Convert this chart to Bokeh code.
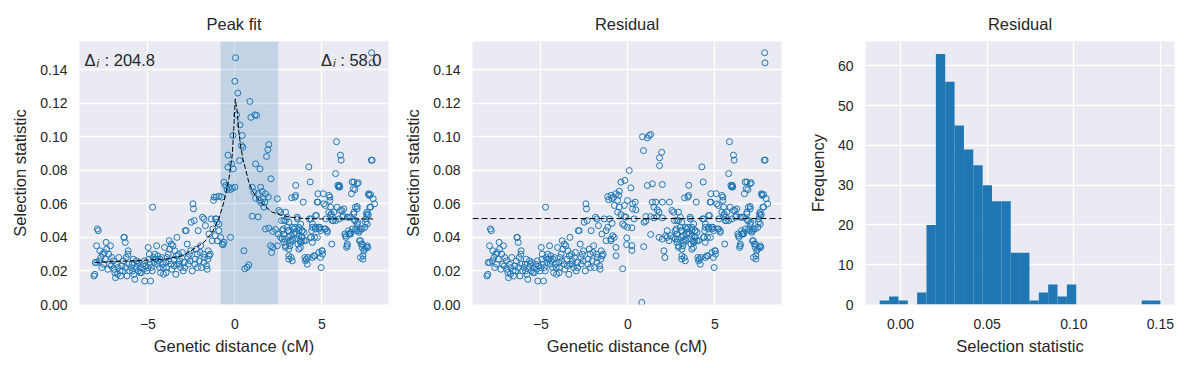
from bokeh.plotting import figure
from bokeh.models import Range1d, FixedTicker, Span, Label, BoxAnnotation, NumeralTickFormatter
from bokeh.layouts import row
from bokeh.embed import file_html
from bokeh.resources import INLINE

FONT = "Liberation Sans"
TXT = "#262626"
BG = "#EAEAF2"
C0 = "#1f77b4"

# ---------------- data ----------------
# points left of the peak window (shared by both scatter panels)
left_x = [-8.10, -8.05, -7.95, -7.90, -7.85, -8.03, -7.94, -7.80, -7.76, -7.70, -7.65, -7.60, -7.55, -7.45,
          -7.40, -7.37, -7.30, -7.25, -7.20, -7.10, -7.07,
          -6.95, -6.90, -6.86, -6.80, -6.72, -6.67, -6.60, -6.57, -6.50, -6.42, -6.38, -6.35, -6.30, -6.28,
          -6.20, -6.15, -6.13, -6.10, -6.05,
          -5.96, -5.90, -5.84, -5.80, -5.75, -5.70, -5.60, -5.55, -5.50, -5.42, -5.37, -5.30, -5.24, -5.18,
          -5.13, -5.05,
          -4.98, -4.94, -4.89, -4.85, -4.80, -4.73, -4.70, -4.65, -4.60, -4.54, -4.50, -4.46, -4.40, -4.33,
          -4.27, -4.21, -4.16, -4.10, -4.04,
          -3.97, -3.93, -3.90, -3.83, -3.77, -3.74, -3.68, -3.62, -3.56, -3.50, -3.45, -3.39, -3.33, -3.30,
          -3.24, -3.18, -3.12, -3.07,
          -2.97, -2.91, -2.85, -2.80, -2.74, -2.68, -2.62, -2.57, -2.51, -2.45, -2.41, -2.38, -2.34, -2.28,
          -2.22, -2.17, -2.11, -2.05,
          -1.97, -1.92, -1.86, -1.80, -1.74, -1.69, -1.63, -1.59, -1.53, -1.48, -1.42, -1.36,
          -7.50, -7.15, -6.98, -6.75, -6.45, -6.25, -5.88, -5.65, -5.45, -5.20, -5.00, -4.92, -4.75, -4.58,
          -4.43, -4.30, -4.12, -3.95, -3.80, -3.65, -3.48, -3.36, -3.20, -3.02, -2.88, -2.70, -2.55, -2.30,
          -2.15, -2.00, -1.78, -1.55, -1.78, -1.49]
left_y = [0.017, 0.018, 0.035, 0.045, 0.044, 0.025, 0.025, 0.026, 0.032, 0.028, 0.022, 0.030, 0.024, 0.027,
          0.037, 0.033, 0.021, 0.030, 0.024, 0.023, 0.028,
          0.021, 0.019, 0.016, 0.024, 0.022, 0.028, 0.020, 0.017, 0.023, 0.026, 0.040, 0.040, 0.037, 0.022,
          0.017, 0.030, 0.032, 0.024, 0.020,
          0.022, 0.024, 0.027, 0.018, 0.015, 0.022, 0.024, 0.020, 0.025, 0.022, 0.019, 0.024, 0.021, 0.014,
          0.023, 0.020,
          0.034, 0.027, 0.024, 0.014, 0.022, 0.058, 0.028, 0.025, 0.030, 0.027, 0.035, 0.024, 0.026, 0.022,
          0.019, 0.028, 0.024, 0.018, 0.034,
          0.025, 0.022, 0.028, 0.030, 0.038, 0.033, 0.024, 0.021, 0.035, 0.027, 0.032, 0.018, 0.040, 0.024,
          0.030, 0.026, 0.022, 0.028,
          0.020, 0.025, 0.044, 0.044, 0.036, 0.024, 0.030, 0.026, 0.049, 0.020, 0.060, 0.057, 0.050, 0.027,
          0.033, 0.030, 0.044, 0.026,
          0.035, 0.022, 0.052, 0.030, 0.028, 0.047, 0.023, 0.021, 0.032, 0.029, 0.030, 0.051,
          0.031, 0.035, 0.026, 0.018, 0.020, 0.028, 0.020, 0.026, 0.019, 0.026, 0.022, 0.030, 0.020, 0.027,
          0.029, 0.027, 0.022, 0.019, 0.026, 0.036, 0.023, 0.029, 0.024, 0.031, 0.022, 0.028, 0.032, 0.024,
          0.022, 0.031, 0.025, 0.027, 0.051, 0.042]

# points inside the peak window, as they appear in the "Peak fit" panel
peak_mid_x = [-1.26, -1.23, -1.19, -1.13, -1.07, -1.03,
              0.04, 0.00, 0.17, 0.86, 0.10, 0.92, 1.15, 1.25, 0.29, -0.11, 0.42, 0.38, 0.46, 1.95, 1.90, 1.82,
              -0.40, 0.27, -0.19, 1.19, -0.40, -0.09, 1.44, 2.07, -0.63, -0.53, -0.34, -0.15, 0.00, -0.44,
              -0.25, 1.00, 1.48, 1.09, 1.34, 1.57, 1.76, 1.63, -0.92, -0.76, 1.19, 1.42, 1.72, 1.53, 1.92,
              1.67, 2.44, 1.00, 1.34, 1.76, 1.95, 2.18, 2.34, 2.49, -0.92, -0.82, -0.63, -1.01, -0.25, -0.69,
              2.05, 2.18, 2.11, 2.44, 0.52, 0.80, 0.71, 0.57, -1.07, -1.11, -0.92, -1.30, -0.72]
peak_mid_y = [0.045, 0.062, 0.064, 0.041, 0.064, 0.049,
              0.147, 0.133, 0.126, 0.121, 0.113, 0.1115, 0.113, 0.1126, 0.107, 0.1007, 0.1007, 0.0947, 0.0937,
              0.0953, 0.0923, 0.0882,
              0.089, 0.0858, 0.0838, 0.0838, 0.0818, 0.0808, 0.0808, 0.0749, 0.0729, 0.0709, 0.0699, 0.0693,
              0.0699, 0.0685, 0.0685, 0.0699, 0.0699, 0.0669, 0.066, 0.0673, 0.066, 0.063, 0.0645, 0.064,
              0.0633, 0.062, 0.061, 0.0606, 0.064, 0.058, 0.063, 0.0526, 0.0522, 0.045, 0.0455, 0.0435,
              0.0447, 0.042, 0.044, 0.040, 0.037, 0.038, 0.040, 0.0356, 0.035, 0.034, 0.031, 0.035, 0.032,
              0.0236, 0.0222, 0.0213, 0.051, 0.051, 0.048, 0.038, 0.036]

# points inside the peak window, as they appear in the "Residual" panel
resid_mid_x = [0.84, 1.12, 1.22, 1.31, 0.90, 1.94, 1.82, 1.82, 0.08, -0.40, -0.17, 0.17, 1.12, 1.41, 1.98,
               -0.49, -0.68, -0.53, -1.16, -0.97, -0.83, -1.10, -0.91, -0.59, -0.02, -0.78, -0.49, -0.20,
               0.27, 0.42, 0.27, 0.46, 1.41, 1.60, 1.98, 2.39, 1.50, 1.69, 1.79, -0.59, -0.40, -0.20, -0.11,
               1.03, 1.31, 1.50, 1.69, 1.98, -0.20, -0.30, -0.02, 0.23, 0.36, -1.06, -0.91, -1.16, -1.25,
               0.93, 1.03, 1.31, -0.06, -0.07, 0.23, 0.23, 0.91, -0.87, -0.78, -0.97, -1.25, -0.68, -0.68,
               -0.97, -0.30, 0.80, 1.79, 1.98, 2.17, 2.26, 2.45, 2.36, 2.07, 2.13, 2.26]
resid_mid_y = [0.100, 0.0993, 0.1007, 0.1013, 0.0917, 0.0907, 0.0874, 0.0828, 0.0798, 0.0729, 0.0739,
               0.0695, 0.0709, 0.0719, 0.0715, 0.0675, 0.066, 0.065, 0.0643, 0.065, 0.0639, 0.0624, 0.063,
               0.062, 0.062, 0.059, 0.058, 0.059, 0.060, 0.061, 0.057, 0.0564, 0.061, 0.061, 0.061, 0.061,
               0.058, 0.0564, 0.055, 0.055, 0.0536, 0.0524, 0.052, 0.0524, 0.0524, 0.0516, 0.0524, 0.0516,
               0.047, 0.048, 0.046, 0.0457, 0.051, 0.051, 0.0484, 0.046, 0.044, 0.049, 0.0496, 0.0417,
               0.0397, 0.0357, 0.0351, 0.0322, 0.0345, 0.041, 0.040, 0.038, 0.038, 0.034, 0.029, 0.039,
               0.0213, 0.0012, 0.040, 0.039, 0.041, 0.040, 0.041, 0.038, 0.032, 0.028, 0.044]

# points right of the peak window (shared by both scatter panels)
right_x = [2.53, 2.63, 2.82, 2.91, 3.01, 3.10, 2.63, 2.72, 2.82, 2.91, 3.07, 2.91, 3.10,
           2.68, 2.72, 2.78, 2.82, 2.85, 3.05, 3.10, 3.16, 3.20, 3.24, 3.30, 3.33, 3.39, 3.45, 3.45, 3.49,
           3.50, 3.54, 3.58, 3.62, 3.68, 3.74, 3.77, 3.83, 3.87, 3.93, 3.97, 4.02, 4.06, 4.10, 4.16, 4.20,
           4.25, 4.29, 4.33, 4.37, 4.41, 4.46,
           4.54, 4.58, 4.63, 4.69, 4.73, 4.77, 4.83, 4.88, 4.92, 4.96, 5.00, 5.04, 5.08, 5.11, 5.17, 5.23,
           5.31, 5.40, 5.46, 5.50,
           5.54, 5.57, 5.61, 5.65, 5.69, 5.79, 5.84, 5.88, 5.92, 5.96, 6.00, 6.03, 6.07, 6.11, 6.15, 6.19,
           6.23, 6.26, 6.32, 6.38, 6.42, 6.46,
           6.53, 6.57, 6.61, 6.65, 6.70, 6.74, 6.80, 6.84, 6.88, 6.93, 6.99, 7.03, 7.07, 7.13, 7.16, 7.22,
           7.26, 7.32, 7.36, 7.41, 7.47, 7.51, 7.57, 7.61, 7.64, 7.68, 7.72, 7.76, 7.84, 7.89, 7.86, 7.88,
           7.95, 8.03,
           4.45, 4.60, 4.83, 5.02, 3.10, 3.20, 3.30, 3.68, 3.78, 3.87, 7.36, 7.47, 7.55, 7.61, 7.22, 7.32,
           7.13, 6.94, 6.36, 6.55, 6.65, 6.46,
           2.91, 3.01, 3.10, 3.30, 3.39, 3.59, 3.68, 3.78, 3.87, 3.97, 3.49, 3.20, 3.68, 3.83, 4.06, 4.35,
           4.45, 4.64, 4.83, 4.93, 5.21, 5.31, 4.45, 4.74, 4.37, 4.64, 5.40, 5.50, 5.60, 5.79, 6.07, 5.98,
           6.46, 6.65, 6.94, 6.75, 7.03, 7.22, 7.03, 6.84, 7.51, 7.61, 7.32,
           6.84, 7.09, 6.90, 7.70, 7.80, 3.26, 5.46, 5.21, 4.77, 7.80, 7.03, 7.60, 7.67, 5.98]
right_y = [0.056, 0.055, 0.050, 0.050, 0.046, 0.044, 0.040, 0.039, 0.037, 0.035, 0.040, 0.034, 0.033,
           0.050, 0.044, 0.045, 0.042, 0.039, 0.044, 0.027, 0.035, 0.038, 0.028, 0.026, 0.038, 0.042, 0.064,
           0.046, 0.065,
           0.071, 0.042, 0.052, 0.036, 0.044, 0.038, 0.034, 0.040, 0.044, 0.061, 0.038, 0.028, 0.026, 0.027,
           0.024, 0.028, 0.082, 0.051, 0.073, 0.040, 0.044, 0.048,
           0.029, 0.040, 0.045, 0.053, 0.061, 0.066, 0.045, 0.046, 0.028, 0.022, 0.032, 0.030, 0.066, 0.060,
           0.045, 0.051, 0.044, 0.065, 0.062, 0.058,
           0.054, 0.036, 0.052, 0.050, 0.055, 0.078, 0.097, 0.058, 0.071, 0.070, 0.071, 0.070, 0.089, 0.086,
           0.056, 0.052, 0.053, 0.057, 0.042, 0.040, 0.034, 0.035,
           0.044, 0.052, 0.042, 0.042, 0.066, 0.073, 0.069, 0.054, 0.050, 0.058, 0.044, 0.072, 0.049, 0.044,
           0.038, 0.028, 0.036, 0.034, 0.027, 0.032, 0.046, 0.049, 0.054, 0.053, 0.034, 0.066, 0.065, 0.058,
           0.086, 0.086, 0.150, 0.144, 0.063, 0.060,
           0.028, 0.029, 0.031, 0.032, 0.029, 0.037, 0.039, 0.033, 0.037, 0.040, 0.029, 0.033, 0.034, 0.035,
           0.038, 0.036, 0.043, 0.045, 0.041, 0.042, 0.043, 0.036,
           0.055, 0.052, 0.049, 0.046, 0.045, 0.051, 0.046, 0.048, 0.044, 0.043, 0.043, 0.041, 0.041, 0.0375,
           0.038, 0.040, 0.046, 0.046, 0.046, 0.044, 0.045, 0.043, 0.037, 0.040, 0.051, 0.053, 0.055, 0.053,
           0.050, 0.050, 0.056, 0.051, 0.052, 0.052, 0.050, 0.045, 0.048, 0.045, 0.057, 0.055, 0.051, 0.048,
           0.045,
           0.073, 0.0725, 0.0685, 0.0655, 0.0655, 0.0636, 0.064, 0.059, 0.061, 0.058, 0.0584, 0.055, 0.0535,
           0.0705]

# fitted peak curve
fit_x = [-8.05, -6.0, -4.0, -3.0, -2.36, -1.78, -1.30, -0.92, -0.63, -0.34, -0.15, -0.06, 0.02, 0.14,
         0.23, 0.33, 0.46, 0.61, 0.80, 1.00, 1.29, 1.67, 2.15, 2.72, 3.20, 4.0, 5.0, 6.0, 7.0, 8.03]
fit_y = [0.025, 0.026, 0.027, 0.029, 0.033, 0.037, 0.043, 0.051, 0.061, 0.075, 0.089, 0.105, 0.1225,
         0.1146, 0.1027, 0.0947, 0.0868, 0.0808, 0.0729, 0.0679, 0.063, 0.059, 0.055, 0.053, 0.052, 0.0512,
         0.051, 0.051, 0.051, 0.051]

peak_window = (-0.82, 2.49)
baseline = 0.0512
delta_left_value = ": 204.8"
delta_right_value = ": 58.0"

# histogram of residuals (30 bins)
hist_lo, hist_hi, hist_bins = -0.012, 0.150, 30
hist_counts = [1, 2, 1, 0, 3, 20, 63, 56, 45, 39, 35, 30, 26, 26, 13, 13, 1, 3, 5, 2, 5, 0, 0, 0, 0, 0, 0, 0, 1, 1]

x_ticks = [-5, 0, 5]
y_ticks = [0.0, 0.02, 0.04, 0.06, 0.08, 0.10, 0.12, 0.14]
hx_ticks = [0.0, 0.05, 0.10, 0.15]
hy_ticks = [0, 10, 20, 30, 40, 50, 60]

# ---------------- helpers ----------------
def make_fig(title, width, left_border, right_border, x_range, y_range):
    p = figure(width=width, height=360, output_backend="svg", toolbar_location=None,
               x_range=x_range, y_range=y_range,
               min_border_left=left_border, min_border_right=right_border,
               min_border_top=41, min_border_bottom=56)
    p.background_fill_color = BG
    p.border_fill_color = "white"
    p.outline_line_color = None
    p.title.text = title
    p.title.align = "center"
    p.title.text_font = FONT
    p.title.text_font_size = "16.5px"
    p.title.text_font_style = "normal"
    p.title.text_color = TXT
    p.title.standoff = 18
    p.grid.grid_line_color = "white"
    p.grid.grid_line_width = 1.3
    for ax in p.axis:
        ax.axis_line_color = None
        ax.major_tick_line_color = None
        ax.minor_tick_line_color = None
        ax.major_tick_out = 0
        ax.major_tick_in = 0
        ax.minor_tick_out = 0
        ax.minor_tick_in = 0
        ax.major_label_text_font = FONT
        ax.major_label_text_font_size = "14px"
        ax.major_label_text_color = TXT
        ax.axis_label_text_font = FONT
        ax.axis_label_text_font_size = "16.5px"
        ax.axis_label_text_font_style = "normal"
        ax.axis_label_text_color = TXT
    p.xaxis.major_label_standoff = 14
    p.xaxis.axis_label_standoff = 5
    p.yaxis.major_label_standoff = 12
    p.yaxis.axis_label_standoff = 8
    return p


def delta_label(p, x, y, value, align):
    kw = dict(text_font=FONT, text_color=TXT, text_baseline="top")
    if align == "left":
        p.add_layout(Label(x=x, y=y, text="Δ", text_align="left", text_font_size="16.5px", **kw))
        p.add_layout(Label(x=x, y=y, x_offset=12, y_offset=-6, text="i", text_align="left",
                           text_font_size="11.5px", text_font_style="italic", **kw))
        p.add_layout(Label(x=x, y=y, x_offset=20, text=value, text_align="left",
                           text_font_size="16.5px", **kw))
    else:
        p.add_layout(Label(x=x, y=y, text=value, text_align="right", text_font_size="16.5px", **kw))
        p.add_layout(Label(x=x, y=y, x_offset=-46, y_offset=-6, text="i", text_align="right",
                           text_font_size="11.5px", text_font_style="italic", **kw))
        p.add_layout(Label(x=x, y=y, x_offset=-49.5, text="Δ", text_align="right",
                           text_font_size="16.5px", **kw))


minus = {-5: "\u22125"}

all_peak_x = left_x + peak_mid_x + right_x
all_peak_y = left_y + peak_mid_y + right_y
res_x = left_x + resid_mid_x + right_x
res_y = left_y + resid_mid_y + right_y

# ---- panel 1: peak fit ----
p1 = make_fig("Peak fit", 401, 79, 13, Range1d(-8.93, 8.83), Range1d(0, 0.1567))
p1.add_layout(BoxAnnotation(left=peak_window[0], right=peak_window[1], fill_color=C0, fill_alpha=0.2,
                            line_color=None, level="underlay"))
delta_label(p1, -8.64, 0.1513, delta_left_value, "left")
delta_label(p1, 8.43, 0.1513, delta_right_value, "right")
p1.scatter(all_peak_x, all_peak_y, marker="circle", size=6, fill_color=None,
           line_color=C0, line_width=1)
p1.line(fit_x, fit_y, line_color="black", line_width=1, line_dash="5 2")
p1.xaxis.axis_label = "Genetic distance (cM)"
p1.yaxis.axis_label = "Selection statistic"
p1.xaxis.ticker = FixedTicker(ticks=x_ticks)
p1.xaxis.major_label_overrides = minus
p1.yaxis.ticker = FixedTicker(ticks=y_ticks)
p1.yaxis.formatter = NumeralTickFormatter(format="0.00")

# ---- panel 2: residual scatter ----
p2 = make_fig("Residual", 393, 71, 13, Range1d(-8.93, 8.83), Range1d(0, 0.1567))
p2.scatter(res_x, res_y, marker="circle", size=6, fill_color=None, line_color=C0, line_width=1)
p2.add_layout(Span(location=baseline, dimension="width", line_color="black", line_width=1,
                   line_dash="6 3"))
p2.xaxis.axis_label = "Genetic distance (cM)"
p2.yaxis.axis_label = "Selection statistic"
p2.xaxis.ticker = FixedTicker(ticks=x_ticks)
p2.xaxis.major_label_overrides = minus
p2.yaxis.ticker = FixedTicker(ticks=y_ticks)
p2.yaxis.formatter = NumeralTickFormatter(format="0.00")

# ---- panel 3: histogram ----
step = (hist_hi - hist_lo) / hist_bins
edges = [hist_lo + i * step for i in range(hist_bins + 1)]
p3 = make_fig("Residual", 387, 71, 7, Range1d(-0.0202, 0.1581), Range1d(0, 66.15))
p3.quad(left=edges[:-1], right=edges[1:], bottom=0, top=hist_counts, fill_color=C0, line_color=None)
p3.xaxis.axis_label = "Selection statistic"
p3.yaxis.axis_label = "Frequency"
p3.xaxis.ticker = FixedTicker(ticks=hx_ticks)
p3.xaxis.formatter = NumeralTickFormatter(format="0.00")
p3.yaxis.ticker = FixedTicker(ticks=hy_ticks)

layout = row(p1, p2, p3)
open("out.html", "w").write(file_html(layout, INLINE))
